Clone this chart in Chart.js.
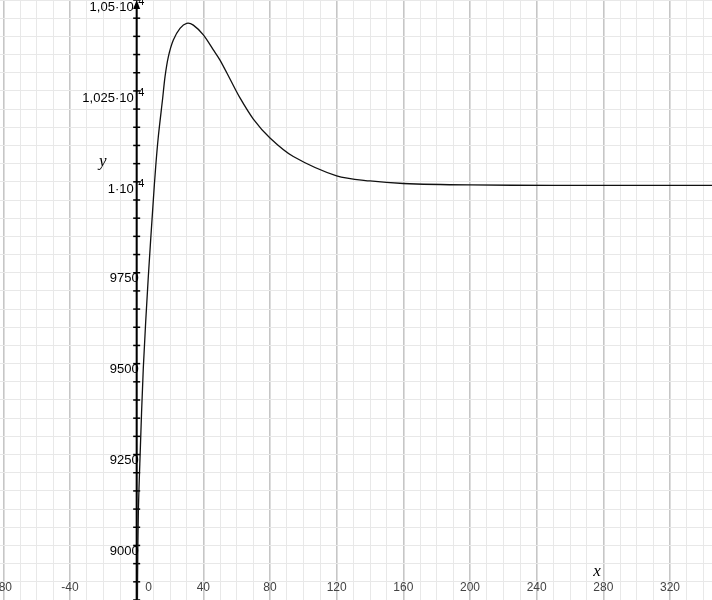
<!DOCTYPE html>
<html>
<head>
<meta charset="utf-8">
<script src="https://cdn.jsdelivr.net/npm/chart.js@4.4.1/dist/chart.umd.min.js"></script>
<style>
  html, body { margin: 0; padding: 0; background: #fff; }
  #wrap { width: 712px; height: 600px; }
</style>
</head>
<body>
<div id="wrap"><canvas id="plot" width="712" height="600"></canvas></div>
<script>
// curve
const curveX = [0, 0.5, 1, 2, 4, 7, 10, 11.4, 13, 15.6, 17, 19, 22, 26, 30, 34, 40, 46, 50, 56, 62, 70, 80, 94, 120, 140, 160, 200, 250, 300, 350];
const curveY = [8400, 8900, 9100, 9250, 9500, 9750, 9960, 10050, 10134, 10239, 10298, 10353, 10399, 10431, 10445, 10440, 10413, 10372, 10344, 10292, 10240, 10182, 10130, 10079, 10026, 10012, 10005, 10001, 10000, 10000, 10000];

const xTickValues = [-80, -40, 0, 40, 80, 120, 160, 200, 240, 280, 320];
const xTickLabels = ['-80', '-40', '0', '40', '80', '120', '160', '200', '240', '280', '320'];
const yTickValues = [9000, 9250, 9500, 9750, 10000, 10250, 10500];
const yTickBase = ['9000', '9250', '9500', '9750', '1·10', '1,025·10', '1,05·10'];
const yTickExp = ['', '', '', '', '4', '4', '4'];

const MAJOR = '#c6c6c6';
const MINOR = '#e8e8e8';
const LABEL_FONT = '13px "Liberation Sans", Arial, sans-serif';
const EXP_FONT = '11px "Liberation Sans", Arial, sans-serif';

const axesOverlay = {
    id: 'axesOverlay',
    beforeDatasetsDraw(chart) {
        const { ctx, chartArea, scales: { x, y } } = chart;
        const ax = x.getPixelForValue(0);
        ctx.save();
        ctx.strokeStyle = '#000';
        ctx.fillStyle = '#000';
        ctx.lineWidth = 2;
        ctx.beginPath();
        ctx.moveTo(ax, chartArea.bottom);
        ctx.lineTo(ax, chartArea.top + 5);
        ctx.stroke();
        // arrow head at the top
        ctx.beginPath();
        ctx.moveTo(ax, chartArea.top);
        ctx.lineTo(ax - 3.5, chartArea.top + 9);
        ctx.lineTo(ax + 3.5, chartArea.top + 9);
        ctx.closePath();
        ctx.fill();
        // small ticks on the axis
        ctx.lineWidth = 1.5;
        y.ticks.forEach(t => {
            const py = y.getPixelForValue(t.value);
            ctx.beginPath();
            ctx.moveTo(ax - 3.5, py);
            ctx.lineTo(ax + 3.5, py);
            ctx.stroke();
        });
        ctx.restore();
    },
    afterDatasetsDraw(chart) {
        const { ctx, chartArea, scales: { x, y } } = chart;
        const ax = x.getPixelForValue(0);
        ctx.save();

        // x labels along the bottom
        ctx.font = '12px "Liberation Sans", Arial, sans-serif';
        ctx.fillStyle = '#444';
        ctx.textAlign = 'center';
        ctx.textBaseline = 'middle';
        xTickValues.forEach((v, i) => {
            let px = x.getPixelForValue(v);
            if (v === 0) px += 12;
            ctx.fillText(xTickLabels[i], px, chartArea.bottom - 12);
        });

        // y labels next to the axis
        ctx.fillStyle = '#000';
        ctx.textAlign = 'left';
        yTickValues.forEach((v, i) => {
            const py = y.getPixelForValue(v);
            ctx.font = LABEL_FONT;
            const wb = ctx.measureText(yTickBase[i]).width;
            if (yTickExp[i]) {
                ctx.fillText(yTickBase[i], ax - 3 - wb, py + 4.5);
                ctx.font = EXP_FONT;
                ctx.fillText(yTickExp[i], ax + 1.5, py - 1.5);
            } else {
                ctx.fillText(yTickBase[i], ax + 2 - wb, py + 2.5);
            }
        });

        // axis names
        ctx.font = 'italic 17px "Liberation Serif", "Times New Roman", serif';
        ctx.textAlign = 'center';
        ctx.fillText('x', chartArea.left + 597, chartArea.bottom - 28);
        ctx.fillText('y', ax - 34, 162);
        ctx.restore();
    }
};

new Chart(document.getElementById('plot'), {
    type: 'line',
    data: {
        datasets: [{
            data: curveX.map((v, i) => ({ x: v, y: curveY[i] })),
            borderColor: '#111',
            borderWidth: 1.3,
            pointRadius: 0,
            tension: 0.3,
            fill: false
        }]
    },
    options: {
        responsive: false,
        animation: false,
        events: [],
        layout: { padding: 0, autoPadding: false },
        plugins: { legend: { display: false }, tooltip: { enabled: false } },
        scales: {
            x: {
                type: 'linear',
                min: -82,
                max: 345.2,
                border: { display: false },
                ticks: { display: false, stepSize: 10, includeBounds: false },
                grid: {
                    drawTicks: false,
                    color: c => (c.tick.value % 40 === 0 ? MAJOR : MINOR),
                    lineWidth: c => (c.tick.value % 40 === 0 ? 1.6 : 1)
                }
            },
            y: {
                type: 'linear',
                min: 8861,
                max: 10509,
                border: { display: false },
                ticks: { display: false, stepSize: 50, includeBounds: false },
                grid: {
                    drawTicks: false,
                    color: c => (c.tick.value % 250 === 0 ? MAJOR : MINOR),
                    lineWidth: c => (c.tick.value % 250 === 0 ? 1.6 : 1)
                }
            }
        }
    },
    plugins: [axesOverlay]
});
</script>
</body>
</html>
